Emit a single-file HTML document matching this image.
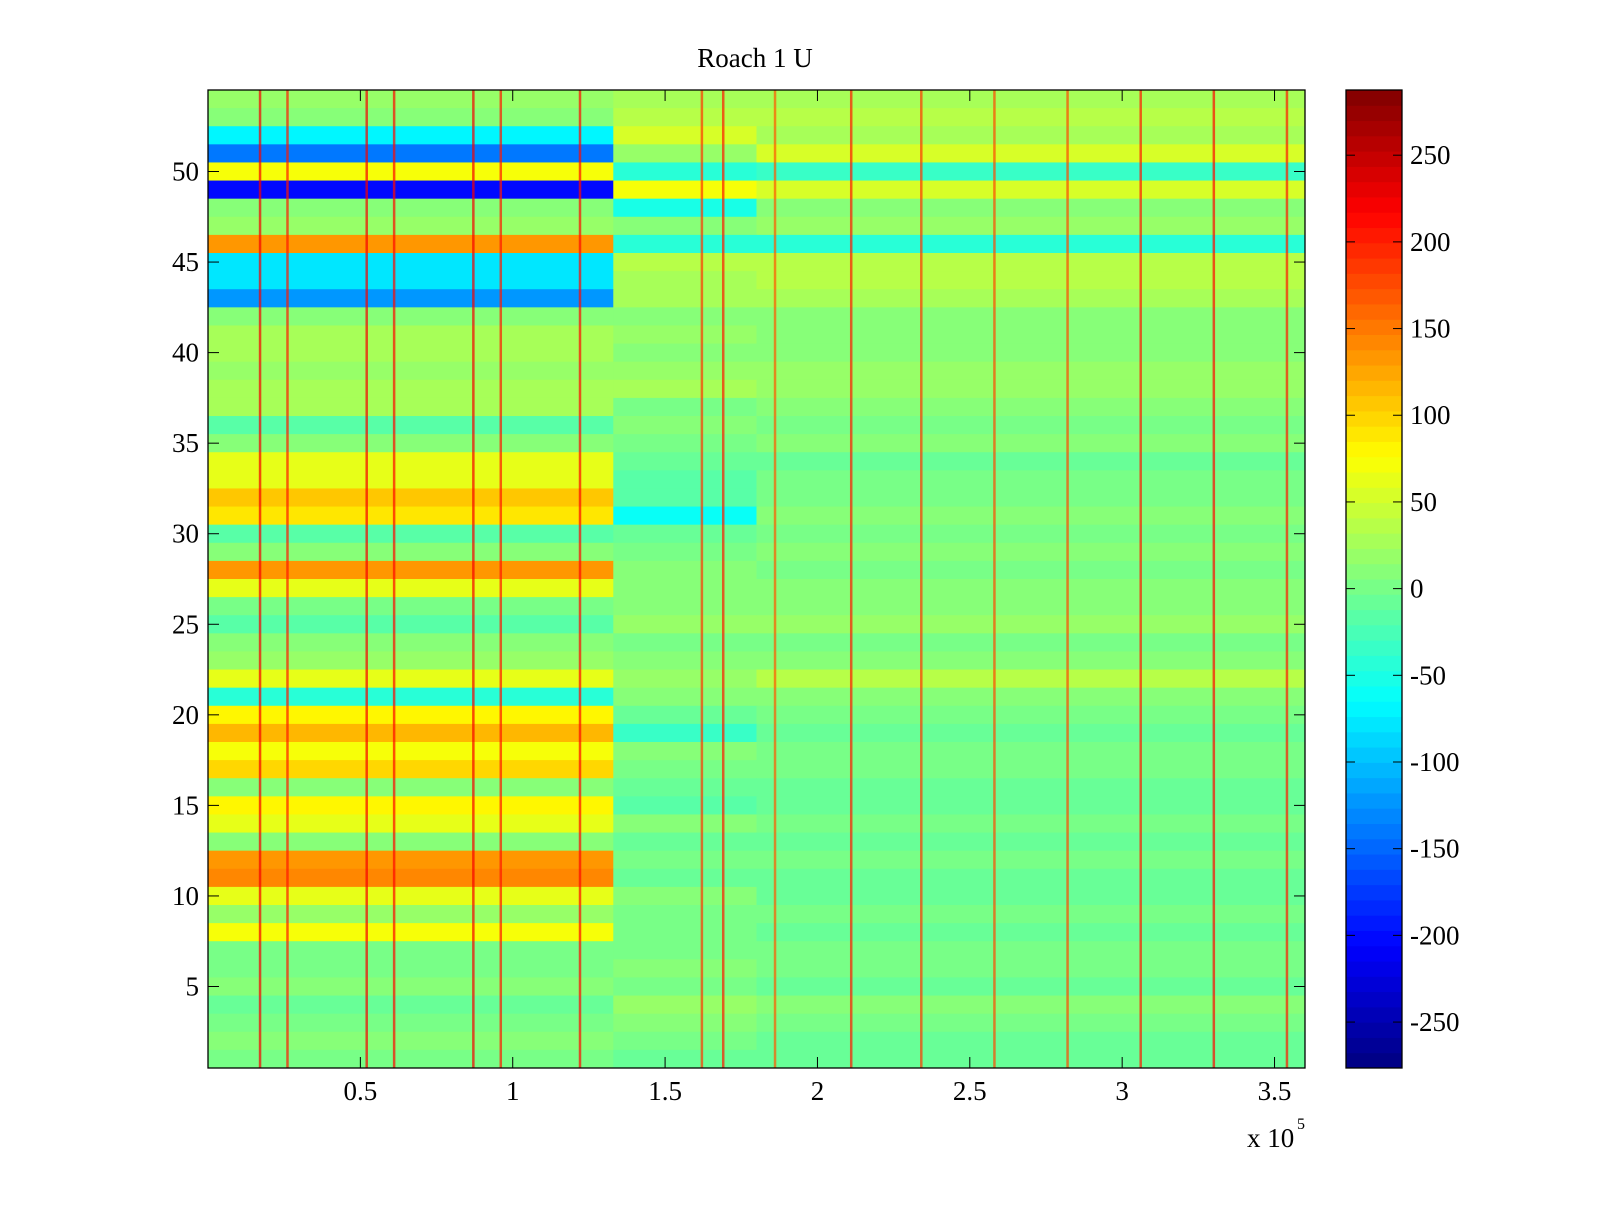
<!DOCTYPE html>
<html><head><meta charset="utf-8"><style>
html,body{margin:0;padding:0;background:#fff;}
svg text{font-family:"Liberation Serif",serif;fill:#000;}
</style></head><body>
<svg id="chart" width="1600" height="1200" viewBox="0 0 1600 1200" xmlns="http://www.w3.org/2000/svg">
<g id="cells"></g>
<g id="spikes"></g>
<g id="axes"></g>
<g id="cbar"></g>
<text x="755" y="67" font-size="27" text-anchor="middle">Roach 1 U</text>
<text x="1247" y="1147" font-size="27">x 10</text>
<text x="1297" y="1129" font-size="16">5</text>
</svg>
<script>
// rows listed from row 54 (top) down to row 1
const rowsLeft = [20,10,-70,-140,70,-200,10,20,130,-80,-80,-120,10,30,25,20,30,25,-20,10,60,60,110,90,-20,10,130,60,0,-20,10,20,60,-40,80,120,70,100,10,80,60,10,130,140,60,20,70,0,0,10,-10,0,10,0];
const rowsMid = [30,40,50,20,-40,70,-50,10,-40,40,30,30,10,20,10,20,30,0,10,0,-10,-20,-20,-60,-10,0,10,10,10,20,0,10,20,10,-10,-30,10,0,-10,-20,10,-10,0,-10,10,0,0,0,10,0,20,10,0,-10];
const rowsRight = [30,40,30,50,-30,50,10,20,-40,40,40,30,10,10,10,20,20,10,0,10,-10,0,0,10,0,10,0,10,10,20,0,10,40,10,0,-10,0,0,-10,-10,0,-10,0,-10,-10,0,-10,0,0,-10,10,0,-10,-10];
const segEdges = [0, 1.33, 1.8, 3.6]; // x in units of 1e5
const spikeX = [0.17,0.26,0.52,0.61,0.87,0.96,1.22,1.62,1.69,1.86,2.11,2.34,2.58,2.82,3.06,3.30,3.54];
const spikeVal = [220,200,220,210,220,200,210,190,200,170,200,190,180,180,200,210,200];
const xTicks = [0.5,1,1.5,2,2.5,3,3.5];
const xTickLabels = ["0.5","1","1.5","2","2.5","3","3.5"];
const yTicks = [5,10,15,20,25,30,35,40,45,50];
const cTicks = [-250,-200,-150,-100,-50,0,50,100,150,200,250];

const L=208,R=1305,T=90,B=1068;
const xs=v=>L+(v/3.6)*(R-L);
const ys=v=>T+(54.5-v)/54*(B-T);
const cmin=-276.5,cmax=287.6;
const CT=90,CB=1068,CL=1346,CR=1402;
const cs=v=>CB-(v-cmin)/(cmax-cmin)*(CB-CT);
function jet(t){t=Math.max(0,Math.min(1,t));
 const r=Math.max(0,Math.min(1,1.5-Math.abs(4*t-3)));
 const g=Math.max(0,Math.min(1,1.5-Math.abs(4*t-2)));
 const b=Math.max(0,Math.min(1,1.5-Math.abs(4*t-1)));
 return `rgb(${Math.round(r*255)},${Math.round(g*255)},${Math.round(b*255)})`;}
function col(v){const i=Math.min(63,Math.max(0,Math.floor((v-cmin)/(cmax-cmin)*64)));return jet((i+0.5)/64);}
const NS="http://www.w3.org/2000/svg";
function mk(tag,attrs,parent){const e=document.createElementNS(NS,tag);for(const k in attrs)e.setAttribute(k,attrs[k]);parent.appendChild(e);return e;}
const cells=document.getElementById('cells');
const segs=[rowsLeft,rowsMid,rowsRight];
for(let i=0;i<54;i++){const row=54-i;
 for(let s=0;s<3;s++){
  const x0=xs(segEdges[s]),x1=xs(segEdges[s+1]);
  const r=mk('rect',{x:x0,y:ys(row+0.5),width:x1-x0+0.5,height:ys(row-0.5)-ys(row+0.5)+0.5,fill:col(segs[s][i])},cells);
  
  
 }}
const sp=document.getElementById('spikes');
spikeX.forEach((x,k)=>{const r=mk('rect',{x:xs(x)-1,y:T,width:2.5,height:B-T,fill:col(spikeVal[k]),opacity:0.7},sp);
 
 });
const ax=document.getElementById('axes');
mk('rect',{x:L,y:T,width:R-L,height:B-T,fill:'none',stroke:'#000','stroke-width':1.3},ax);
xTicks.forEach((v,k)=>{const x=xs(v);
 mk('line',{x1:x,y1:B,x2:x,y2:B-11,stroke:'#000'},ax);mk('line',{x1:x,y1:T,x2:x,y2:T+11,stroke:'#000'},ax);
 const t=mk('text',{x:x,y:1100,'font-size':27,'text-anchor':'middle'},ax);t.textContent=xTickLabels[k];
 
 });
yTicks.forEach(v=>{const y=ys(v);
 mk('line',{x1:L,y1:y,x2:L+11,y2:y,stroke:'#000'},ax);mk('line',{x1:R,y1:y,x2:R-11,y2:y,stroke:'#000'},ax);
 const t=mk('text',{x:199,y:y+9,'font-size':27,'text-anchor':'end'},ax);t.textContent=String(v);
 
 });
const cb=document.getElementById('cbar');
for(let i=0;i<64;i++){const v0=cmin+(cmax-cmin)*i/64,v1=cmin+(cmax-cmin)*(i+1)/64;
 const r=mk('rect',{x:CL,y:cs(v1),width:CR-CL,height:cs(v0)-cs(v1)+0.5,fill:jet((i+0.5)/64)},cb);
 
 }
mk('rect',{x:CL,y:CT,width:CR-CL,height:CB-CT,fill:'none',stroke:'#000','stroke-width':1.3},cb);
cTicks.forEach(v=>{const y=cs(v);
 mk('line',{x1:CL,y1:y,x2:CL+9,y2:y,stroke:'#000'},cb);mk('line',{x1:CR,y1:y,x2:CR-9,y2:y,stroke:'#000'},cb);
 const t=mk('text',{x:1410,y:y+9,'font-size':27},cb);t.textContent=String(v);
 
 });
</script>
</body></html>
